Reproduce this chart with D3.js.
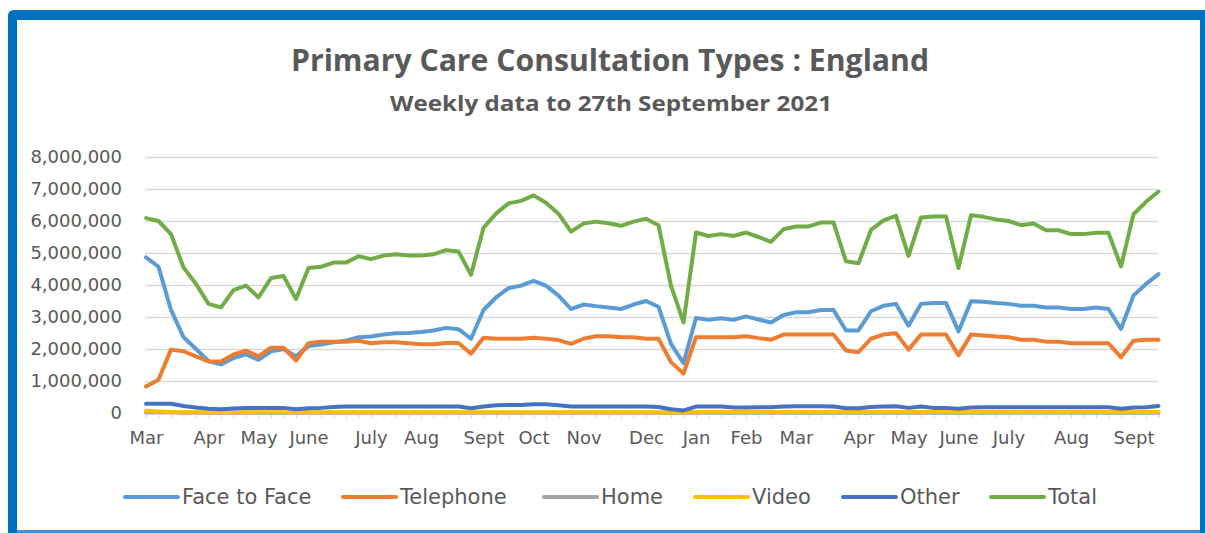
<!DOCTYPE html>
<html><head><meta charset="utf-8">
<script src="https://cdn.jsdelivr.net/npm/d3@7"></script>
<style>html,body{margin:0;padding:0;background:#fff;}svg{display:block;}</style>
</head><body>
<svg id="chart" width="1205" height="533"></svg>
<script>
// ---- data (values in millions of consultations, weekly) ----
const startWeek = "2020-03-02";
const endWeek = "2021-09-20";
const tickWeeks = ["2020-03-02","2020-04-06","2020-05-04","2020-06-01","2020-07-06","2020-08-03","2020-09-07","2020-10-05","2020-11-02","2020-12-07","2021-01-04","2021-02-01","2021-03-01","2021-04-05","2021-05-03","2021-05-31","2021-06-28","2021-08-02","2021-09-06"];
const tickLabels = ["Mar","Apr","May","June","July","Aug","Sept","Oct","Nov","Dec","Jan","Feb","Mar","Apr","May","June","July","Aug","Sept"];
const seriesNames = ["Face to Face","Telephone","Home","Video","Other","Total"];
const seriesColors = ["#5B9BD5","#ED7D31","#A5A5A5","#FFC000","#4472C4","#70AD47"];
const faceToFace = [4.86,4.57,3.22,2.37,2.00,1.62,1.52,1.72,1.83,1.66,1.93,2.00,1.77,2.09,2.14,2.21,2.26,2.37,2.39,2.45,2.49,2.50,2.53,2.58,2.66,2.62,2.32,3.22,3.61,3.90,3.98,4.13,3.98,3.67,3.25,3.39,3.34,3.30,3.25,3.39,3.50,3.32,2.16,1.56,2.97,2.91,2.96,2.91,3.02,2.92,2.83,3.06,3.15,3.15,3.22,3.22,2.58,2.58,3.18,3.35,3.41,2.73,3.41,3.44,3.44,2.55,3.49,3.48,3.44,3.41,3.35,3.35,3.30,3.30,3.25,3.25,3.30,3.25,2.63,3.67,4.03,4.34];
const telephone = [0.83,1.04,1.98,1.93,1.77,1.61,1.61,1.83,1.95,1.77,2.04,2.04,1.64,2.18,2.23,2.23,2.23,2.26,2.18,2.21,2.21,2.18,2.15,2.15,2.19,2.19,1.85,2.35,2.32,2.32,2.32,2.35,2.32,2.28,2.16,2.32,2.40,2.40,2.37,2.37,2.32,2.32,1.59,1.23,2.37,2.37,2.37,2.37,2.40,2.34,2.29,2.45,2.45,2.45,2.45,2.45,1.95,1.90,2.32,2.45,2.49,1.98,2.45,2.45,2.45,1.80,2.45,2.42,2.39,2.37,2.29,2.29,2.23,2.23,2.18,2.18,2.18,2.18,1.74,2.26,2.29,2.29];
const home = [0.02,0.02,0.02,0.01,0.01,0.01,0.01,0.01,0.01,0.01,0.01,0.01,0.01,0.01,0.01,0.01,0.01,0.01,0.01,0.01,0.01,0.01,0.01,0.01,0.01,0.01,0.01,0.01,0.01,0.01,0.01,0.01,0.01,0.01,0.01,0.01,0.01,0.01,0.01,0.01,0.01,0.01,0.01,0.01,0.01,0.01,0.01,0.01,0.01,0.01,0.01,0.01,0.01,0.01,0.01,0.01,0.01,0.01,0.01,0.01,0.01,0.01,0.01,0.01,0.01,0.01,0.01,0.01,0.01,0.01,0.01,0.01,0.01,0.01,0.01,0.01,0.01,0.01,0.01,0.01,0.01,0.01];
const video = [0.07,0.05,0.03,0.02,0.02,0.02,0.02,0.02,0.02,0.02,0.02,0.02,0.02,0.02,0.02,0.02,0.02,0.02,0.02,0.02,0.02,0.02,0.02,0.02,0.02,0.02,0.02,0.02,0.02,0.02,0.02,0.02,0.02,0.02,0.02,0.02,0.02,0.02,0.02,0.02,0.02,0.02,0.02,0.02,0.03,0.03,0.03,0.03,0.03,0.03,0.03,0.03,0.03,0.03,0.03,0.03,0.03,0.03,0.03,0.03,0.03,0.03,0.03,0.03,0.03,0.03,0.03,0.03,0.03,0.03,0.03,0.03,0.03,0.03,0.03,0.03,0.03,0.03,0.03,0.03,0.03,0.03];
const other = [0.29,0.29,0.29,0.22,0.17,0.13,0.12,0.14,0.16,0.16,0.16,0.16,0.12,0.15,0.16,0.19,0.20,0.20,0.20,0.20,0.20,0.20,0.20,0.20,0.20,0.20,0.15,0.20,0.24,0.25,0.25,0.27,0.27,0.24,0.20,0.20,0.20,0.20,0.20,0.20,0.20,0.19,0.12,0.08,0.20,0.20,0.20,0.17,0.17,0.18,0.18,0.20,0.21,0.21,0.21,0.20,0.15,0.15,0.19,0.20,0.21,0.16,0.20,0.16,0.16,0.13,0.17,0.18,0.18,0.18,0.18,0.18,0.18,0.18,0.18,0.18,0.18,0.18,0.13,0.17,0.18,0.22];
const total = [6.09,6.00,5.59,4.55,4.03,3.41,3.30,3.84,3.98,3.61,4.22,4.28,3.56,4.53,4.57,4.70,4.70,4.90,4.81,4.92,4.96,4.92,4.92,4.96,5.09,5.05,4.32,5.79,6.23,6.55,6.63,6.80,6.57,6.23,5.67,5.92,5.98,5.93,5.85,5.98,6.07,5.87,3.98,2.83,5.64,5.53,5.59,5.53,5.64,5.50,5.35,5.74,5.83,5.83,5.95,5.95,4.74,4.68,5.72,6.02,6.16,4.91,6.11,6.14,6.14,4.53,6.18,6.13,6.05,6.00,5.87,5.92,5.71,5.71,5.59,5.59,5.63,5.63,4.58,6.21,6.60,6.92];
const yTicks = [0,1,2,3,4,5,6,7,8];

// ---- build ----
const fmtDay = d3.timeFormat("%Y-%m-%d");
const parseDay = d3.timeParse("%Y-%m-%d");
const weeks = d3.timeMonday.range(parseDay(startWeek), d3.timeDay.offset(parseDay(endWeek), 1)).map(fmtDay);
const allSeries = [faceToFace, telephone, home, video, other, total];

const svg = d3.select("#chart");
const W = 1205, H = 533;
svg.append("rect").attr("width", W).attr("height", H).attr("fill", "#fff");

// frame
const frameBlue = "#0070C0";
svg.append("path")
  .attr("d", "M8,533 L8,16 Q8,10 14,10 L1205,10 L1205,20 L17,20 L17,533 Z")
  .attr("fill", frameBlue);
svg.append("rect").attr("x", 1200).attr("y", 10).attr("width", 5).attr("height", 523).attr("fill", frameBlue);
svg.append("rect").attr("x", 17).attr("y", 530).attr("width", 1183).attr("height", 3).attr("fill", "#4A8FD0");

const textColor = "#595959";
const font = "'DejaVu Sans', sans-serif";

// titles
svg.append("text").attr("x", 610).attr("y", 71).attr("text-anchor", "middle")
  .attr("font-family", "'Open Sans', sans-serif").attr("font-weight", 700).attr("font-size", 30)
  .attr("fill", textColor).attr("textLength", 638).attr("lengthAdjust", "spacingAndGlyphs")
  .text("Primary Care Consultation Types : England");
svg.append("text").attr("x", 611).attr("y", 111).attr("text-anchor", "middle")
  .attr("font-family", "'Open Sans', sans-serif").attr("font-weight", 700).attr("font-size", 22)
  .attr("fill", textColor).attr("textLength", 442).attr("lengthAdjust", "spacingAndGlyphs")
  .text("Weekly data to 27th September 2021");

// scales
const m = {left: 146, right: 1158.5, top: 157, bottom: 413};
const x = d3.scalePoint().domain(weeks).range([m.left, m.right]);
const y = d3.scaleLinear().domain([0, 8]).range([m.bottom, m.top]);

// gridlines
const yAxis = d3.axisLeft(y).tickValues(yTicks).tickSize(-(m.right - m.left + 1)).tickPadding(23)
  .tickFormat(d => d3.format(",")(d * 1000000));
const gy = svg.append("g").attr("transform", `translate(${m.left - 1},0)`).call(yAxis);
gy.select(".domain").remove();
gy.selectAll(".tick line").attr("stroke", "#D9D9D9").attr("stroke-width", 1.4);
gy.selectAll(".tick text").attr("font-family", font).attr("font-size", 18).attr("fill", textColor);

// x axis
const labelMap = new Map(tickWeeks.map((w, i) => [w, tickLabels[i]]));
const xAxis = d3.axisBottom(x).tickSize(5).tickPadding(13).tickFormat(d => labelMap.get(d) || "");
const gx = svg.append("g").attr("transform", `translate(0,${m.bottom})`).call(xAxis);
gx.select(".domain").attr("stroke", "#D9D9D9").attr("stroke-width", 1.4);
gx.selectAll(".tick line").attr("stroke", "#D9D9D9");
gx.selectAll(".tick text").attr("font-family", font).attr("font-size", 18).attr("fill", textColor);

// lines
const line = d3.line().x((d, i) => x(weeks[i])).y(d => y(d));
allSeries.forEach((s, k) => {
  svg.append("path").datum(s).attr("d", line).attr("fill", "none")
    .attr("stroke", seriesColors[k]).attr("stroke-width", 4)
    .attr("stroke-linejoin", "round").attr("stroke-linecap", "round");
});

// legend
const legendX = [125, 343, 544, 695, 843, 991];
const lg = svg.append("g");
seriesNames.forEach((n, k) => {
  const g = lg.append("g").attr("transform", `translate(${legendX[k]},497)`);
  g.append("line").attr("x1", 0).attr("x2", 53).attr("y1", 0).attr("y2", 0)
    .attr("stroke", seriesColors[k]).attr("stroke-width", 4).attr("stroke-linecap", "round");
  g.append("text").attr("x", 57).attr("y", 7).attr("font-family", font).attr("font-size", 21)
    .attr("fill", textColor).text(n);
});
</script>
</body></html>
